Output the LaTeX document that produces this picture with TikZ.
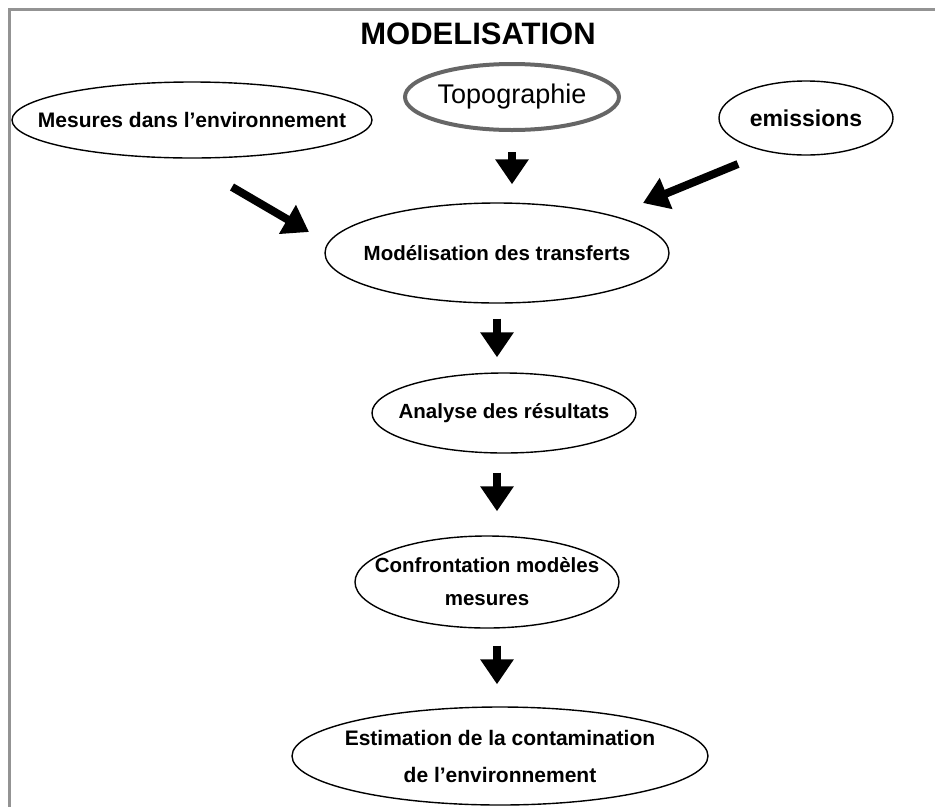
\documentclass[tikz,border=0pt]{standalone}
\usepackage{fontspec}
\setmainfont{Liberation Sans}
\usetikzlibrary{shapes.geometric, arrows.meta, positioning}

\begin{document}
\begin{tikzpicture}[x=1pt, y=-1pt,
    bubble/.style={ellipse, draw, line width=1.4pt, inner xsep=-40pt, inner ysep=0pt, align=center,
        font=\bfseries\fontsize{20.5}{33}\selectfont},
    flowarrow/.style={line width=8pt, -{Triangle[width=32pt, length=25pt]},
        shorten <=18pt, shorten >=18pt}]
    \useasboundingbox (0,0) rectangle (935,807);

    % cadre
    \draw[gray!85, line width=3pt] (935,9) -- (9,9) -- (9,807);
    \node[font=\bfseries\fontsize{31}{36}\selectfont] (titre) at (478,34) {MODELISATION};

    % entrees
    \node[bubble, minimum width=360pt, minimum height=76pt, font=\bfseries\fontsize{21}{25}\selectfont]
        (mesures) at (192,120) {Mesures dans l'environnement};
    \node[bubble, draw=black!60, line width=4pt, minimum width=214pt, minimum height=66pt,
        font=\fontsize{27}{30}\selectfont] (topo) at (512,97) {Topographie};
    \node[bubble, minimum width=174pt, minimum height=74pt, font=\bfseries\fontsize{23}{27}\selectfont]
        (emis) at (806,118) {emissions};

    % chaine de traitement
    \node[bubble, minimum width=344pt, minimum height=100pt] (transf) at (497,253) {Modélisation des transferts};
    \node[bubble, minimum width=264pt, minimum height=80pt] (analyse) at (504,413) {Analyse des résultats};
    \node[bubble, minimum width=264pt, minimum height=92pt] (confr) at (487,582) {Confrontation modèles\\mesures};
    \node[bubble, minimum width=416pt, minimum height=98pt, font=\bfseries\fontsize{21}{37}\selectfont]
        (estim) at (500,756) {Estimation de la contamination\\de l'environnement};

    % fleches
    \coordinate (mesA) at (232,187);
    \coordinate (mesB) at (309,232);
    \coordinate (emiA) at (738,164);
    \coordinate (emiB) at (643,203);
    \draw[flowarrow, shorten <=0pt, shorten >=0pt] (mesA) -- (mesB);
    \draw[flowarrow, shorten <=0pt, shorten >=0pt] (emiA) -- (emiB);
    \draw[flowarrow, shorten <=20pt] (topo.south) -- (topo.south |- transf.north);
    \draw[flowarrow, shorten <=15pt, shorten >=15pt] (transf.south) -- (transf.south |- analyse.north);
    \draw[flowarrow, shorten <=19pt, shorten >=24pt] (transf.south |- analyse.south) -- (transf.south |- confr.north);
    \draw[flowarrow, shorten <=17pt, shorten >=22pt] (transf.south |- confr.south) -- (transf.south |- estim.north);
\end{tikzpicture}
\end{document}
